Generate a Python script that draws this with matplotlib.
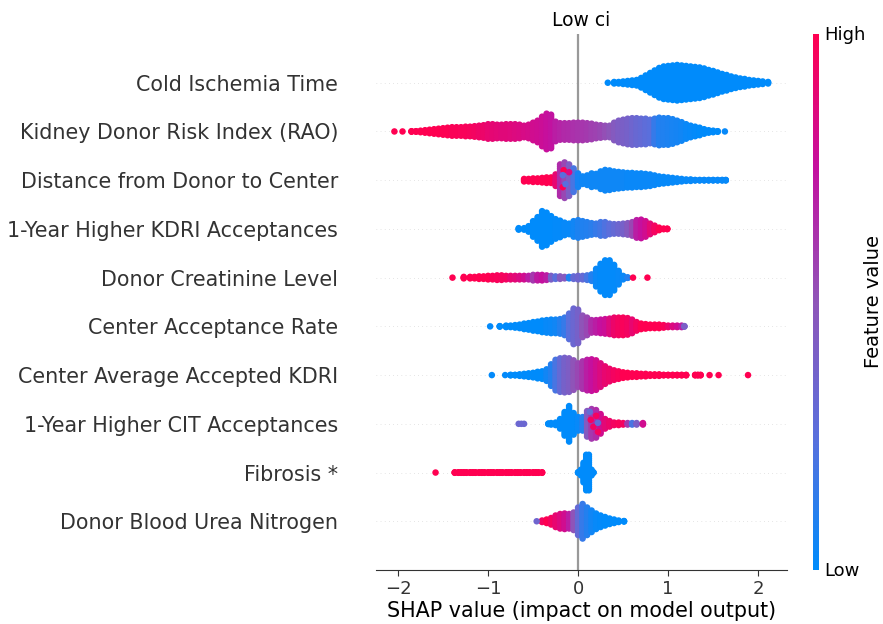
import math
import matplotlib
matplotlib.use("Agg")
import matplotlib.pyplot as plt
from matplotlib.colors import LinearSegmentedColormap

features = ["Cold Ischemia Time", "Kidney Donor Risk Index (RAO)", "Distance from Donor to Center",
            "1-Year Higher KDRI Acceptances", "Donor Creatinine Level", "Center Acceptance Rate",
            "Center Average Accepted KDRI", "1-Year Higher CIT Acceptances", "Fibrosis *",
            "Donor Blood Urea Nitrogen"]

# Each feature: SHAP bin centres, half thickness of the swarm (px), mean feature value in the bin (0-1)
cold_x = [.40,.45,.50,.55,.60,.65,.70,.75,.80,.85,.90,.95,1.0,1.05,1.1,1.15,1.2,1.25,1.3,1.35,1.4,1.45,1.5,1.55,1.6,1.65,1.7,1.75,1.8,1.85,1.9,1.95,2.0,2.05,2.11]
cold_h = [4,4,4.5,5,5.5,6,8,10.5,13,15.5,18,19.5,20,20.5,21,20.5,20,19.5,19,18.5,17.5,16,15,13.5,12,11,9.5,8.5,7.5,7,6,5.5,5,4.5,4]
cold_v = [0]*35

kdri_x = [-1.85,-1.8,-1.75,-1.7,-1.65,-1.6,-1.55,-1.5,-1.45,-1.4,-1.35,-1.3,-1.25,-1.2,-1.15,-1.1,-1.05,-1.0,-.95,-.9,-.85,-.8,-.75,-.7,-.65,-.6,-.55,-.5,-.45,-.4,-.35,-.3,-.25,-.2,-.15,-.1,-.05,0,.05,.1,.15,.2,.25,.3,.35,.4,.45,.5,.55,.6,.65,.7,.75,.8,.85,.9,.95,1.0,1.05,1.1,1.15,1.2,1.25,1.3,1.35,1.4,1.45,1.5,1.55]
kdri_h = [3.5,3.5,4,4.5,5,5.5,6,6.5,7,7.5,7.5,7.5,8,8,8.5,9,9.5,10.5,10.5,10,10,10.5,10.5,10.5,10,9,10,12,14,18,21,20,13,11.5,11.5,11.5,12,12,12,11.5,11,10,9.5,9,9,12,14,15,16,16.5,16.5,16,16,15,16,17,16.5,16.5,15.5,14,12.5,10.5,9,8,7,5.5,4.5,4,3.5]
kdri_v = [1,1,1,1,1,1,1,.99,.99,.98,.98,.97,.97,.96,.95,.93,.92,.9,.89,.88,.87,.87,.86,.85,.84,.83,.82,.8,.79,.78,.76,.74,.7,.68,.66,.65,.63,.62,.61,.6,.58,.57,.55,.52,.49,.45,.42,.4,.38,.35,.32,.3,.27,.25,.15,.1,.09,.08,.07,.06,.05,.03,.02,.01,0,0,0,0,0]

dist_x = [-.6,-.55,-.5,-.45,-.4,-.35,-.3,-.25,-.2,-.15,-.1,-.05,0,.05,.1,.15,.2,.25,.3,.35,.4,.45,.5,.55,.6,.65,.7,.75,.8,.85,.9,.95,1.0,1.05,1.1,1.15,1.2,1.25,1.3,1.35,1.4,1.45,1.5,1.55,1.6,1.64]
dist_h = [4.5,4.5,5,5,5.5,6,6,9,19,21,19,15,10,7,8,10,9.5,12,13.5,13,12,11.5,11,10.5,10.5,10,10,9.5,9,8,7,6.5,6,5.5,5,4.5,4,4,3.5,3.5,3.5,3.5,3.5,3.5,3.5,3.5]
dist_v = [1,1,1,1,1,1,1,.9,.65,.55,.42,.2,.06,.04,.04,.04,.04,.04,.04,.04,.04,.04,.04,.03,.03,.03,.03,.03,.03,.03,.02,.02,.02,.02,.02,.02,.02,.02,.02,.02,.02,.02,.02,.02,.02,.02]

hkdri_x = [-.66,-.6,-.55,-.5,-.45,-.4,-.35,-.3,-.25,-.2,-.15,-.1,-.05,0,.05,.1,.15,.2,.25,.3,.35,.4,.45,.5,.55,.6,.65,.7,.75,.8,.85,.9,.95,.99]
hkdri_h = [4,4,6,11,15,21,19.5,16,13,11.5,9.5,8.5,11,12,11,10,9,8.5,10,10,8.5,8,8,8.5,9,10,12,12.5,11,8.5,6.5,4.5,3.5,3.5]
hkdri_v = [0,0,0,0,0,0,0,0,.01,.01,.02,.02,.05,.08,.09,.1,.12,.15,.18,.22,.26,.3,.34,.38,.45,.55,.7,.75,.8,.88,.95,1,1,1]

creat_x = [-1.27,-1.2,-1.15,-1.1,-1.05,-1.0,-.95,-.9,-.85,-.8,-.75,-.7,-.65,-.6,-.55,-.5,-.45,-.4,-.35,-.3,-.25,-.2,-.15,-.1,-.05,0,.05,.1,.15,.2,.25,.3,.35,.4,.45,.5,.55]
creat_h = [4,4,4,4.5,4.5,5,5,5.5,5.5,5,5,5,5,5,5,6,6,6,5.5,5,4.5,4.5,4,4,4.5,5,5,5.5,6.5,12,17,20.5,20.5,16,10,5,3.5]
creat_v = [1,1,1,1,1,1,.98,.97,.96,.95,.9,.88,.84,.8,.7,.6,.72,.75,.7,.4,.25,.45,.45,.08,.3,.35,.3,.2,.1,.03,.01,.01,.01,.01,.02,.03,.1]

rate_x = [-.87,-.8,-.75,-.7,-.65,-.6,-.55,-.5,-.45,-.4,-.35,-.3,-.25,-.2,-.15,-.1,-.05,0,.05,.1,.15,.2,.25,.3,.35,.4,.45,.5,.55,.6,.65,.7,.75,.8,.85,.9,.95,1.0,1.05,1.1,1.15,1.18]
rate_h = [3.5,4,4,4.5,5,6,6.5,7.5,8,9,9.5,10,10,10.5,12,16,21,20,14,12,9.5,9.5,10,10.5,11,12,12,12,11.5,10,7.5,6,5.5,5,5,5,4.5,4,4,4,4,3.5]
rate_v = [0,0,0,0,0,0,0,0,0,0,.02,.03,.05,.1,.15,.25,.33,.38,.5,.55,.65,.7,.75,.78,.85,.92,.95,.97,.95,.9,.95,1,1,1,1,1,.98,.92,.85,.8,.7,.4]

akdri_x = [-.75,-.7,-.65,-.6,-.55,-.5,-.45,-.4,-.35,-.3,-.25,-.2,-.15,-.1,-.05,0,.05,.1,.15,.2,.25,.3,.35,.4,.45,.5,.55,.6,.65,.7,.75,.8,.85,.9,.95,1.0,1.05,1.1,1.15,1.2,1.3,1.33,1.36]
akdri_h = [3.5,3.5,4,4.5,5,5.5,6.5,7,9,14,18.5,20,20.5,20,18,15,17,18.5,19,18,15,12,9.5,8,7,6,5.5,5,5,4.5,4.5,4,4,4,3.5,3.5,3.5,3.5,3.5,3.5,3.5,3.5,3.5]
akdri_v = [0,0,0,0,0,0,0,0,.05,.1,.2,.3,.38,.42,.5,.55,.62,.7,.75,.8,.85,.9,.92,.95,.97,1,1,1,1,1,1,1,1,1,1,1,1,1,1,1,1,1,1]

hcit_x = [-.33,-.3,-.25,-.2,-.15,-.1,-.05,0,.05,.1,.15,.2,.25,.3,.35,.4,.45,.5,.55,.6,.65,.72]
hcit_h = [3.5,4,4.5,8,15,21,14,10,10,16,18,17,13,8,6,4.5,4.5,4,4,4,4,4]
hcit_v = [0,0,0,0,0,0,0,.02,.1,.45,.6,.65,.8,.88,.92,.95,.97,.95,.6,.2,.4,.8]

fib_x = [-1.37,-1.33,-1.3,-1.27,-1.24,-1.2,-1.17,-1.14,-1.1,-1.07,-1.04,-1.0,-.97,-.94,-.9,-.87,-.84,-.8,-.77,-.74,-.7,-.67,-.64,-.6,-.57,-.54,-.5,-.47,-.44,-.4,0,.03,.06,.09,.12,.15,.17]
fib_h = [3.5]*30 + [3.5,6,13,21,21,6,3.5]
fib_v = [1]*30 + [0]*7

bun_x = [-.4,-.35,-.3,-.25,-.2,-.15,-.1,-.05,0,.05,.1,.15,.2,.25,.3,.35,.4,.45,.51]
bun_h = [4,5,6.5,9,10.5,11,10.5,12,17,20.5,17,14,11,9,7.5,6,5,4,3.5]
bun_v = [.95,1,.95,.9,.85,.8,.7,.5,.3,.15,.1,.05,.02,.01,0,0,0,0,0]

columns = [(cold_x, cold_h, cold_v), (kdri_x, kdri_h, kdri_v), (dist_x, dist_h, dist_v),
           (hkdri_x, hkdri_h, hkdri_v), (creat_x, creat_h, creat_v), (rate_x, rate_h, rate_v),
           (akdri_x, akdri_h, akdri_v), (hcit_x, hcit_h, hcit_v), (fib_x, fib_h, fib_v), (bun_x, bun_h, bun_v)]

# Separately visible points: feature index, SHAP value, offset from the row (px), feature value
single_row = [0, 1,1,1, 4,4,4, 5, 6,6,6,6,6, 7,7,7, 8, 9,
              2,2,2,2,2, 7,7,7,7,7,7]
single_x   = [.33, -2.04,-1.95,1.63, -1.395,.61,.77, -.977, -.958,-.81,1.46,1.56,1.887, -.66,-.63,-.6, -1.583, -.46,
              -.16,-.1,-.17,-.17,-.14, .14,.2,.17,.22,.13,.22]
single_off = [0, 0,0,0, 0,0,0, 0, 0,0,0,0,0, 0,0,0, 0, 0,
              10,8,-7,5,-4, 4,8,-3,-8,12,1]
single_v   = [0, 1,1,.02, 1,1,1, .01, .01,.01,1,1,1, .33,.33,.33, 1, .35,
              1,.85,1,.25,.25, .95,.95,.95,.95,.3,.3]

red_blue = LinearSegmentedColormap.from_list("red_blue", [(0, "#008bfb"), (.25, "#5a6fdc"), (.5, "#8f55b8"), (.75, "#c4109f"), (1, "#ff0051")])

W, H = 883, 624
ROW_PX = 48.73
DOT_R = 3.25
plt.rcParams["font.family"] = "DejaVu Sans"
fig = plt.figure(figsize=(W/100, H/100), dpi=100)
ax = fig.add_axes([375.5/W, 1-570/H, (787-375.5)/W, 536/H])

n = len(features)
for i, (xs, hs, vs) in enumerate(columns):
    row = n - 1 - i
    px, py, pv = [], [], []
    for x, h, v in zip(xs, hs, vs):
        half = max(h - DOT_R, 0)
        k = math.ceil(half / 2.0)
        for j in range(-k, k + 1):
            px.append(x)
            py.append(row + (j / k * half / ROW_PX if k else 0))
            pv.append(v)
    ax.scatter(px, py, c=pv, cmap=red_blue, vmin=0, vmax=1, s=22, linewidths=0, zorder=3)

ax.scatter(single_x, [n - 1 - r + o / ROW_PX for r, o in zip(single_row, single_off)],
           c=single_v, cmap=red_blue, vmin=0, vmax=1, s=22, linewidths=0, zorder=4)

for row in range(n):
    ax.axhline(row, color="#cccccc", lw=0.5, dashes=(1, 5), zorder=-1)
ax.axvline(0, color="#999999", lw=1.6, zorder=-1)

ax.set_xlim(-2.25, 2.32)
ax.set_ylim(-1, n)
ax.set_yticks(range(n))
ax.set_yticklabels(features[::-1], fontsize=14.9, color="#333333")
ax.set_xticks([-2, -1, 0, 1, 2])
ax.tick_params(axis="y", length=0, pad=27)
ax.tick_params(axis="x", labelsize=13, colors="#333333", length=4)
for s in ["top", "left", "right"]:
    ax.spines[s].set_visible(False)
ax.spines["bottom"].set_color("#333333")
ax.set_xlabel("SHAP value (impact on model output)", fontsize=14.9, labelpad=2)
ax.set_title("Low ci", fontsize=13.5, pad=6)

cax = fig.add_axes([812.5/W, 1-569.5/H, 6.5/W, 536/H])
cb = fig.colorbar(plt.cm.ScalarMappable(cmap=red_blue, norm=plt.Normalize(0, 1)), cax=cax, ticks=[0, 1])
cb.set_ticklabels(["Low", "High"])
cb.ax.tick_params(length=0, labelsize=13, pad=3.5)
cb.outline.set_visible(False)
cb.set_label("Feature value", fontsize=14, labelpad=-1)

fig.savefig("out.png", dpi=100)
